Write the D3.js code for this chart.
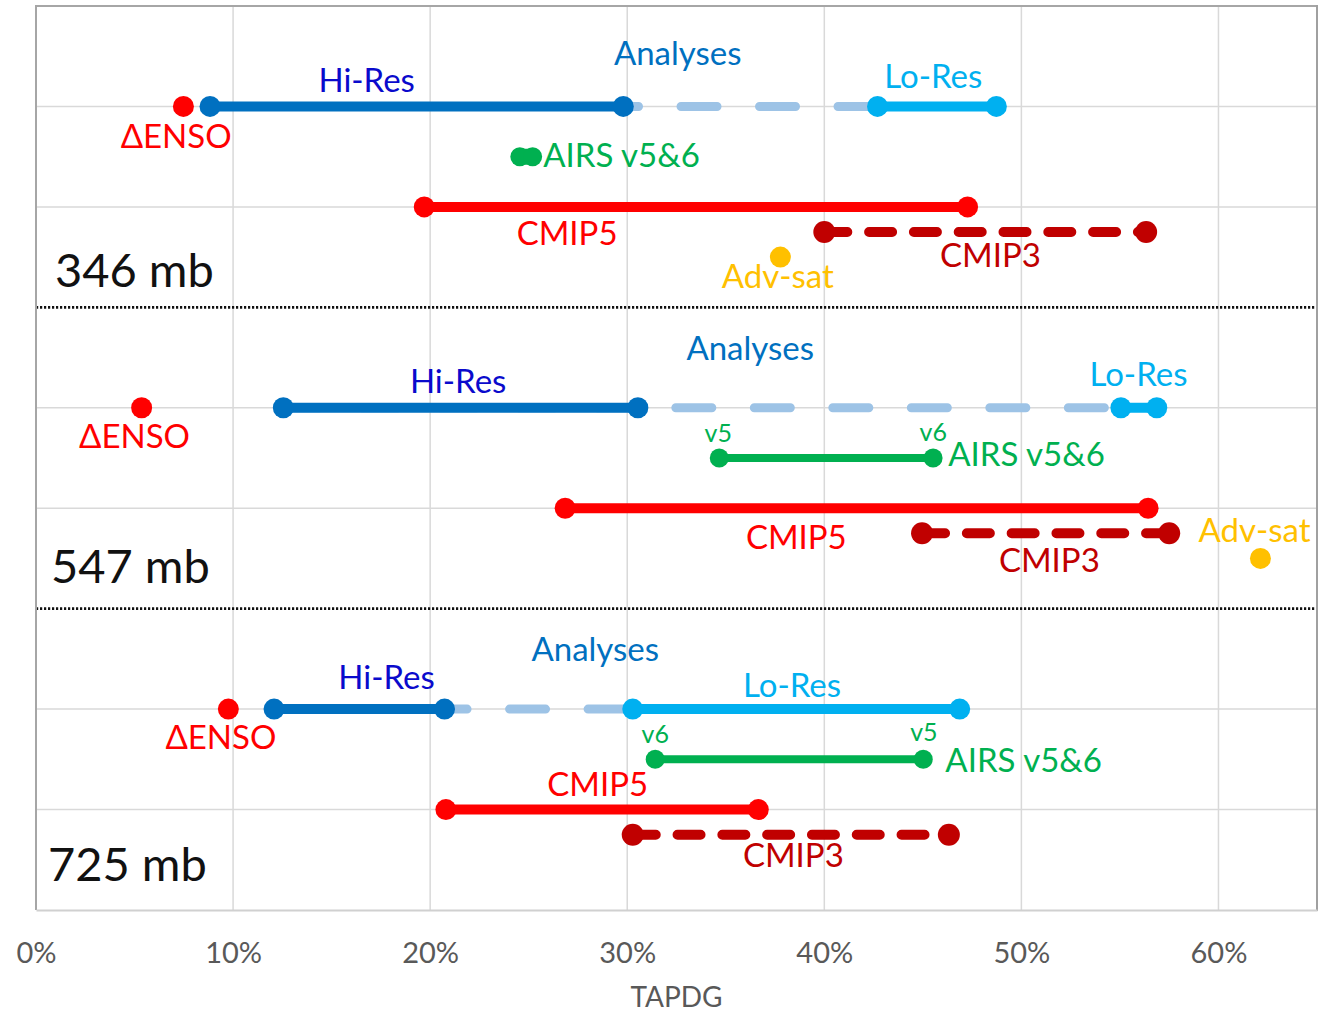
<!DOCTYPE html>
<html>
<head>
<meta charset="utf-8">
<script src="https://cdn.jsdelivr.net/npm/d3@7"></script>
<style>
  html, body { margin: 0; padding: 0; background: #fff; }
  svg { display: block; font-family: Lato, "Open Sans", "Noto Sans", sans-serif; }
</style>
</head>
<body>
<svg id="chart" width="1335" height="1012"></svg>
<script>
// Pressure levels, one panel each (top to bottom)
const levels = ["346 mb", "547 mb", "725 mb"];

// TAPDG values in percent, one entry per level
const ensoDelta = [7.48, 5.36, 9.76];
const hiResLo   = [8.83, 12.55, 12.08];
const hiResHi   = [29.8, 30.54, 20.73];
const loResLo   = [42.7, 55.05, 30.28];
const loResHi   = [48.73, 56.87, 46.87];
const airsV5    = [24.55, 34.67, 45.02];
const airsV6    = [25.2, 45.52, 31.42];
const cmip5Lo   = [19.7, 26.85, 20.8];
const cmip5Hi   = [47.27, 56.43, 36.65];
const cmip3Lo   = [40.0, 44.96, 30.28];
const cmip3Hi   = [56.33, 57.5, 46.32];
const advSat    = [37.77, 62.13, null];

// Axis ticks
const tickValues = [0, 10, 20, 30, 40, 50, 60];
const xTitle = "TAPDG";

const svg = d3.select("#chart");

const x = d3.scaleLinear().domain([0, 65]).range([36, 1317]);
const y = d3.scaleLinear().domain([0, 9]).range([6, 910]);

// Row offsets inside a panel (panel i has its main row at 1 + 3i)
const rowOf = (i, off) => 1 + 3 * i + off;

// ---- grid ----
const grid = svg.append("g");
grid.selectAll("line.vg").data(tickValues.filter(v => v > 0)).join("line")
  .attr("x1", d => x(d)).attr("x2", d => x(d))
  .attr("y1", y(0)).attr("y2", y(9))
  .attr("stroke", "#d9d9d9").attr("stroke-width", 1.5);
grid.selectAll("line.hg").data([1, 2, 4, 5, 7, 8]).join("line")
  .attr("x1", x(0)).attr("x2", x(65))
  .attr("y1", d => y(d)).attr("y2", d => y(d))
  .attr("stroke", "#d9d9d9").attr("stroke-width", 1.5);
// panel separators
grid.selectAll("line.sep").data([3, 6]).join("line")
  .attr("x1", x(0)).attr("x2", x(65))
  .attr("y1", d => y(d)).attr("y2", d => y(d))
  .attr("stroke", "#111").attr("stroke-width", 2.6)
  .attr("stroke-dasharray", "2.2 1.8");

// frame
svg.append("line").attr("x1", x(0)).attr("x2", x(65)).attr("y1", y(0)).attr("y2", y(0))
  .attr("stroke", "#a6a6a6").attr("stroke-width", 2);
svg.append("line").attr("x1", x(0)).attr("x2", x(0)).attr("y1", y(0) - 1).attr("y2", y(9))
  .attr("stroke", "#a6a6a6").attr("stroke-width", 2);
svg.append("line").attr("x1", x(65)).attr("x2", x(65)).attr("y1", y(0) - 1).attr("y2", y(9) + 1)
  .attr("stroke", "#a0a0a0").attr("stroke-width", 2);

// ---- x axis ----
const axis = svg.append("g").attr("transform", `translate(0,${y(9)})`)
  .call(d3.axisBottom(x).tickValues(tickValues).tickFormat(d => d + "%").tickSize(0).tickPadding(32));
axis.select(".domain").attr("stroke", "#d0d0d0").attr("stroke-width", 2);
axis.selectAll("text").attr("font-size", 29).attr("fill", "#595959")
  .attr("font-family", "Lato, sans-serif");

svg.append("text").attr("x", x(32.5)).attr("y", 1007)
  .attr("text-anchor", "middle").attr("font-size", 28).attr("fill", "#595959")
  .text(xTitle);

// ---- range bars ----
const ranges = [
  { lo: hiResLo, hi: loResHi, off: 0,    color: "#9dc3e6", w: 9,  dash: "36 42.5", r: 0 },
  { lo: hiResLo, hi: hiResHi, off: 0,    color: "#0070c0", w: 10, dash: null, r: 10.5 },
  { lo: loResLo, hi: loResHi, off: 0,    color: "#00b0f0", w: 10, dash: null, r: 10.5 },
  { lo: airsV5,  hi: airsV6,  off: 0.5,  color: "#00b050", w: 8,  dash: null, r: 9.5 },
  { lo: cmip5Lo, hi: cmip5Hi, off: 1,    color: "#ff0000", w: 10, dash: null, r: 10.5 },
  { lo: cmip3Lo, hi: cmip3Hi, off: 1.25, color: "#c00000", w: 10, dash: "23 21.8", r: 11 }
];

const marks = svg.append("g");
ranges.forEach(s => {
  levels.forEach((lev, i) => {
    const a = Math.min(s.lo[i], s.hi[i]), b = Math.max(s.lo[i], s.hi[i]);
    const yy = y(rowOf(i, s.off));
    marks.append("line")
      .attr("x1", x(a)).attr("x2", x(b)).attr("y1", yy).attr("y2", yy)
      .attr("stroke", s.color).attr("stroke-width", s.dash ? s.w : Math.max(s.w, x(b) - x(a) < 20 ? 16 : s.w))
      .attr("stroke-linecap", "round")
      .attr("stroke-dasharray", s.dash);
    if (s.r > 0) {
      marks.selectAll(null).data([a, b]).enter().append("circle")
        .attr("cx", d => x(d)).attr("cy", yy).attr("r", s.r).attr("fill", s.color);
    }
  });
});

// single-value markers
marks.selectAll("circle.enso").data(ensoDelta).enter().append("circle")
  .attr("cx", d => x(d)).attr("cy", (d, i) => y(rowOf(i, 0))).attr("r", 10.5).attr("fill", "#ff0000");
marks.selectAll("circle.adv").data(advSat.map((v, i) => ({ v, i })).filter(d => d.v != null))
  .enter().append("circle")
  .attr("cx", d => x(d.v)).attr("cy", d => y(rowOf(d.i, 1.5))).attr("r", 10.5).attr("fill", "#ffc000");

// ---- annotations (x in %, y in row units) ----
const C = {
  hires: "#0a0acc", anal: "#0070c0", lores: "#00b0f0", red: "#ff0000",
  green: "#00b050", dred: "#c00000", gold: "#ffc000", black: "#111"
};
const L = 33, S = 25, P = 47;
const notes = [
  // 346 mb
  ["Hi-Res", 16.78, 0.856, "middle", L, C.hires],
  ["Analyses", 32.56, 0.587, "middle", L, C.anal],
  ["Lo-Res", 45.53, 0.819, "middle", L, C.lores],
  ["\u0394ENSO", 7.11, 1.414, "middle", L, C.red],
  ["AIRS v5&6", 25.74, 1.6, "start", L, C.green],
  ["CMIP5", 26.95, 2.379, "middle", L, C.red],
  ["CMIP3", 48.43, 2.595, "middle", L, C.dred],
  ["Adv-sat", 37.64, 2.81, "middle", L, C.gold],
  [levels[0], 0.96, 2.794, "start", P, C.black],
  // 547 mb
  ["Hi-Res", 21.42, 3.853, "middle", L, C.hires],
  ["Analyses", 36.24, 3.524, "middle", L, C.anal],
  ["Lo-Res", 55.94, 3.783, "middle", L, C.lores],
  ["\u0394ENSO", 5.0, 4.403, "middle", L, C.red],
  ["v5", 34.62, 4.338, "middle", S, C.green],
  ["v6", 45.53, 4.331, "middle", S, C.green],
  ["AIRS v5&6", 46.29, 4.576, "start", L, C.green],
  ["CMIP5", 38.58, 5.409, "middle", L, C.red],
  ["CMIP3", 51.42, 5.632, "middle", L, C.dred],
  ["Adv-sat", 61.83, 5.333, "middle", L, C.gold],
  [levels[1], 0.76, 5.741, "start", P, C.black],
  // 725 mb
  ["Hi-Res", 17.79, 6.802, "middle", L, C.hires],
  ["Analyses", 28.38, 6.521, "middle", L, C.anal],
  ["Lo-Res", 38.36, 6.876, "middle", L, C.lores],
  ["\u0394ENSO", 9.38, 7.397, "middle", L, C.red],
  ["v6", 31.42, 7.334, "middle", S, C.green],
  ["v5", 45.05, 7.314, "middle", S, C.green],
  ["AIRS v5&6", 46.14, 7.623, "start", L, C.green],
  ["CMIP5", 28.5, 7.865, "middle", L, C.red],
  ["CMIP3", 38.43, 8.569, "middle", L, C.dred],
  [levels[2], 0.61, 8.711, "start", P, C.black]
];

svg.append("g").selectAll("text").data(notes).join("text")
  .attr("x", d => x(d[1])).attr("y", d => y(d[2]))
  .attr("text-anchor", d => d[3])
  .attr("font-size", d => d[4])
  .attr("fill", d => d[5])
  .text(d => d[0]);
</script>
</body>
</html>
